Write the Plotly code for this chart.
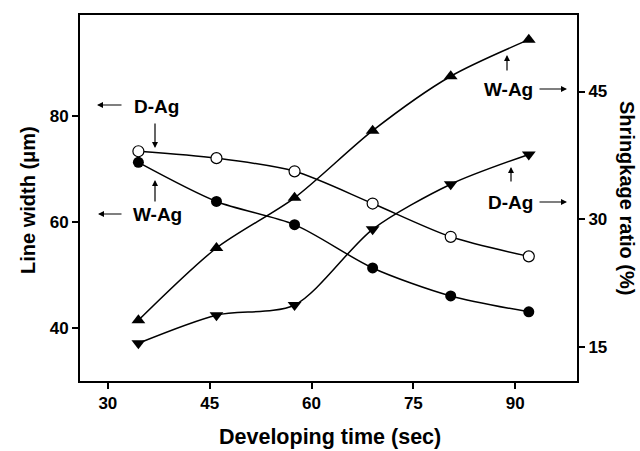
import plotly.graph_objects as go

# ---- data ----
dev_time = [34.5, 46, 57.5, 69, 80.5, 92]
width_dag = [73.4, 72.1, 69.6, 63.5, 57.2, 53.5]      # open circles (left axis)
width_wag = [71.3, 63.9, 59.5, 51.3, 46.0, 43.0]      # filled circles (left axis)
shrink_wag = [18.1, 26.6, 32.5, 40.4, 46.8, 51.1]     # up triangles (right axis)
shrink_dag = [15.4, 18.7, 19.9, 28.8, 34.1, 37.6]     # down triangles (right axis)
x_ticks = [30, 45, 60, 75, 90]
yl_ticks = [40, 60, 80]
yr_ticks = [15, 30, 45]

FONT = "Liberation Sans, Arial, sans-serif"
W, H = 640, 451
ML, MR, MT, MB = 80, 63, 15, 70
PW, PH = W - ML - MR, H - MT - MB


def px(x):
    return (x - ML) / PW


def py(y):
    return (H - MB - y) / PH


fig = go.Figure()
line = dict(color="black", width=1.5, shape="spline", smoothing=0.8)

fig.add_trace(go.Scatter(x=dev_time, y=width_dag, mode="lines+markers", line=line,
                         marker=dict(symbol="circle", size=11, color="white",
                                     line=dict(color="black", width=1.2)),
                         showlegend=False))
fig.add_trace(go.Scatter(x=dev_time, y=width_wag, mode="lines+markers", line=line,
                         marker=dict(symbol="circle", size=11, color="black"),
                         showlegend=False))
fig.add_trace(go.Scatter(x=dev_time, y=shrink_wag, mode="lines+markers", line=line, yaxis="y2",
                         marker=dict(symbol="triangle-up", size=12, color="black"),
                         showlegend=False))
fig.add_trace(go.Scatter(x=dev_time, y=shrink_dag, mode="lines+markers", line=line, yaxis="y2",
                         marker=dict(symbol="triangle-down", size=12, color="black"),
                         showlegend=False))

tickfont = dict(family=FONT, size=17, color="black", weight=700)
fig.update_layout(
    width=W, height=H,
    margin=dict(l=ML, r=MR, t=MT, b=MB),
    paper_bgcolor="white", plot_bgcolor="white",
    xaxis=dict(range=[25.9, 99.1], tickvals=x_ticks, ticks="outside", ticklen=6, tickwidth=2,
               tickcolor="black", showline=True, linecolor="black", linewidth=2, mirror=True,
               showgrid=False, zeroline=False, tickfont=tickfont),
    yaxis=dict(range=[29.9, 99.2], tickvals=yl_ticks, ticks="outside", ticklen=6, tickwidth=2,
               tickcolor="black", showline=True, linecolor="black", linewidth=2,
               showgrid=False, zeroline=False, tickfont=tickfont),
    yaxis2=dict(range=[10.96, 54.0], tickvals=yr_ticks, ticks="outside", ticklen=6, tickwidth=2,
                tickcolor="black", showline=True, linecolor="black", linewidth=2,
                overlaying="y", side="right", showgrid=False, zeroline=False, tickfont=tickfont),
)

annots = []
title_font = dict(family=FONT, size=20, color="black", weight=700)
annots.append(dict(text="Developing time (sec)", x=px(330), y=py(437), xref="paper", yref="paper",
                   showarrow=False, font=dict(title_font, size=21.5), xanchor="center", yanchor="middle"))
annots.append(dict(text="Line width (μm)", x=px(28), y=py(200), xref="paper", yref="paper",
                   showarrow=False, font=title_font, textangle=-90, xanchor="center", yanchor="middle"))
annots.append(dict(text="Shringkage ratio (%)", x=px(627), y=py(198), xref="paper", yref="paper",
                   showarrow=False, font=title_font, textangle=90, xanchor="center", yanchor="middle"))

lab_font = dict(family=FONT, size=19, color="black", weight=700)
labels = [("D-Ag", 156, 106), ("W-Ag", 157, 215), ("W-Ag", 508, 89), ("D-Ag", 510, 202)]
for t, x, y in labels:
    annots.append(dict(text=t, x=px(x), y=py(y), xref="paper", yref="paper", showarrow=False,
                       font=lab_font, xanchor="center", yanchor="middle"))

# arrows: (head_x, head_y, tail_x, tail_y) in pixels
arrows = [(97, 105, 123, 105), (155, 148, 155, 122),
          (98, 214, 123, 214), (155, 180, 155, 203),
          (567, 89, 538, 89), (507, 55, 507, 72),
          (567, 202, 538, 202), (511, 167, 511, 183)]
for hx, hy, tx, ty in arrows:
    annots.append(dict(text="", x=px(hx), y=py(hy), xref="paper", yref="paper",
                       ax=tx - hx, ay=ty - hy, showarrow=True, arrowhead=2, arrowsize=1,
                       arrowwidth=1.2, arrowcolor="black"))

fig.update_layout(annotations=annots)
fig.write_html("out.html", config={"displayModeBar": False},
               post_script="document.body.style.margin='0';document.body.style.overflow='hidden';")
